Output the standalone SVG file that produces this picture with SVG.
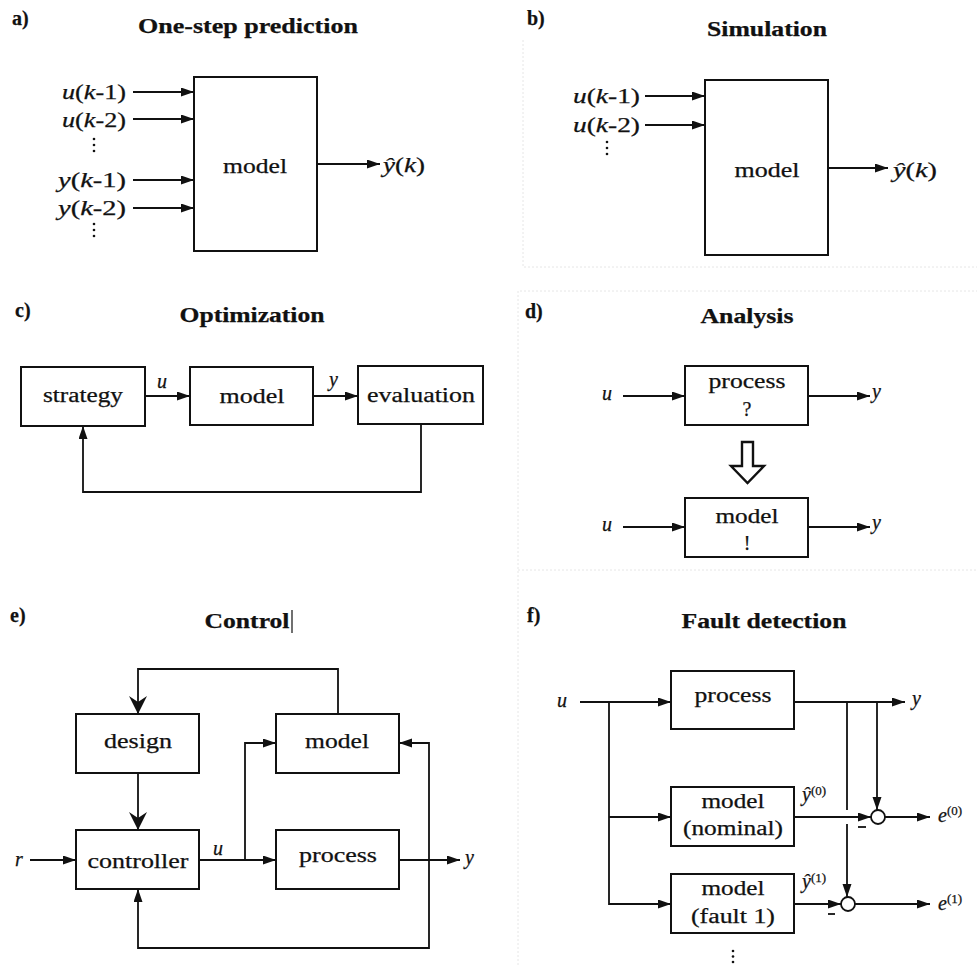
<svg xmlns="http://www.w3.org/2000/svg" width="977" height="967" viewBox="0 0 977 967">
<style>
text{font-family:"Liberation Serif","Times New Roman",serif;fill:#111;stroke:#111;stroke-width:0.25;}
.t{font-size:21px;font-weight:bold;text-anchor:middle;}
.p{font-size:20px;font-weight:bold;}
.b{font-size:20px;text-anchor:middle;}
.l{font-size:20px;}
.i{font-style:italic;}
.s{font-size:13px;}
.box{fill:#fff;stroke:#111;stroke-width:2;}
.c{fill:none;stroke:#111;stroke-width:1.8;}
.dot{fill:#111;}
.bg{stroke:#e6e6e6;stroke-width:1;fill:none;stroke-dasharray:2 2;}
</style>
<defs>
<marker id="ah" markerUnits="userSpaceOnUse" markerWidth="14" markerHeight="10" refX="13" refY="4.5" orient="auto"><path d="M0,0 L13,4.5 L0,9 z" fill="#111"/></marker>
<marker id="big" markerUnits="userSpaceOnUse" markerWidth="19" markerHeight="19" refX="18" refY="9" orient="auto"><path d="M0,0 L18,9 L0,18 L6,9 z" fill="#111"/></marker>
</defs>
<rect x="0" y="0" width="977" height="967" fill="#fff"/>
<g id="background">
<path class="bg" d="M523,40 V267 H977 M520,291 H977 M518,291 V967 M518,570 H977"/>
</g>

<!-- Panel a -->
<g id="panel-a">
<text class="p" x="12" y="25">a)</text>
<text class="t" x="248" y="33" textLength="220" lengthAdjust="spacingAndGlyphs">One-step prediction</text>
<text class="l" x="62" y="99" textLength="64" lengthAdjust="spacingAndGlyphs"><tspan class="i">u</tspan>(<tspan class="i">k</tspan>-1)</text>
<text class="l" x="62" y="127" textLength="64" lengthAdjust="spacingAndGlyphs"><tspan class="i">u</tspan>(<tspan class="i">k</tspan>-2)</text>
<text class="l" x="58" y="187" textLength="68" lengthAdjust="spacingAndGlyphs"><tspan class="i">y</tspan>(<tspan class="i">k</tspan>-1)</text>
<text class="l" x="58" y="215" textLength="68" lengthAdjust="spacingAndGlyphs"><tspan class="i">y</tspan>(<tspan class="i">k</tspan>-2)</text>
<circle class="dot" cx="94" cy="139" r="1.3"/><circle class="dot" cx="94" cy="145" r="1.3"/><circle class="dot" cx="94" cy="151" r="1.3"/>
<circle class="dot" cx="94" cy="224" r="1.3"/><circle class="dot" cx="94" cy="230" r="1.3"/><circle class="dot" cx="94" cy="236" r="1.3"/>
<text class="l" x="383" y="172" textLength="42" lengthAdjust="spacingAndGlyphs"><tspan class="i">ŷ</tspan>(<tspan class="i">k</tspan>)</text>
</g>
<g id="a-model">
<rect class="box" x="194" y="77" width="123" height="174"/>
<text class="b" x="255" y="173" textLength="64" lengthAdjust="spacingAndGlyphs">model</text>
</g>

<!-- Panel b -->
<g id="panel-b">
<text class="p" x="527" y="25">b)</text>
<text class="t" x="767" y="36" textLength="120" lengthAdjust="spacingAndGlyphs">Simulation</text>
<text class="l" x="573" y="103" textLength="67" lengthAdjust="spacingAndGlyphs"><tspan class="i">u</tspan>(<tspan class="i">k</tspan>-1)</text>
<text class="l" x="573" y="132" textLength="67" lengthAdjust="spacingAndGlyphs"><tspan class="i">u</tspan>(<tspan class="i">k</tspan>-2)</text>
<circle class="dot" cx="607" cy="142" r="1.3"/><circle class="dot" cx="607" cy="148" r="1.3"/><circle class="dot" cx="607" cy="154" r="1.3"/>
<text class="l" x="893" y="177" textLength="44" lengthAdjust="spacingAndGlyphs"><tspan class="i">ŷ</tspan>(<tspan class="i">k</tspan>)</text>
</g>
<g id="b-model">
<rect class="box" x="705" y="80" width="123" height="175"/>
<text class="b" x="767" y="177" textLength="65" lengthAdjust="spacingAndGlyphs">model</text>
</g>

<!-- Panel c -->
<g id="panel-c">
<text class="p" x="15" y="317">c)</text>
<text class="t" x="252" y="322" textLength="145" lengthAdjust="spacingAndGlyphs">Optimization</text>
<text class="l i" x="157" y="388">u</text>
<text class="l i" x="329" y="386">y</text>
</g>
<g id="c-strategy">
<rect class="box" x="21" y="367" width="124" height="59"/>
<text class="b" x="83" y="402" textLength="80" lengthAdjust="spacingAndGlyphs">strategy</text>
</g>
<g id="c-model">
<rect class="box" x="190" y="367" width="123" height="58"/>
<text class="b" x="252" y="403" textLength="65" lengthAdjust="spacingAndGlyphs">model</text>
</g>
<g id="c-evaluation">
<rect class="box" x="358" y="366" width="125" height="58"/>
<text class="b" x="421" y="402" textLength="108" lengthAdjust="spacingAndGlyphs">evaluation</text>
</g>

<!-- Panel d -->
<g id="panel-d">
<text class="p" x="525" y="318">d)</text>
<text class="t" x="747" y="323" textLength="93" lengthAdjust="spacingAndGlyphs">Analysis</text>
<text class="l i" x="602" y="400">u</text>
<text class="l i" x="872" y="398">y</text>
<text class="l i" x="602" y="531">u</text>
<text class="l i" x="872" y="529">y</text>
<polygon points="742,442 753,442 753,466 764,466 747.5,483 731,466 742,466" fill="#fff" stroke="#111" stroke-width="2.4"/>
</g>
<g id="d-process">
<rect class="box" x="685" y="366" width="123" height="59"/>
<text class="b" x="747" y="388" textLength="77" lengthAdjust="spacingAndGlyphs">process</text>
<text class="b" x="747" y="416">?</text>
</g>
<g id="d-model">
<rect class="box" x="685" y="498" width="123" height="59"/>
<text class="b" x="747" y="523" textLength="63" lengthAdjust="spacingAndGlyphs">model</text>
<text class="b" x="747" y="550">!</text>
</g>

<!-- Panel e -->
<g id="panel-e">
<text class="p" x="10" y="622">e)</text>
<text class="t" x="247" y="628" textLength="85" lengthAdjust="spacingAndGlyphs">Control</text>
<line x1="292" y1="610" x2="292" y2="633" stroke="#111" stroke-width="1.2"/>
<text class="l i" x="15" y="866">r</text>
<text class="l i" x="213" y="855">u</text>
<text class="l i" x="465" y="864">y</text>
</g>
<g id="e-design">
<rect class="box" x="76" y="714" width="123" height="59"/>
<text class="b" x="138" y="748" textLength="68" lengthAdjust="spacingAndGlyphs">design</text>
</g>
<g id="e-model">
<rect class="box" x="276" y="714" width="123" height="59"/>
<text class="b" x="337" y="748" textLength="64" lengthAdjust="spacingAndGlyphs">model</text>
</g>
<g id="e-controller">
<rect class="box" x="76" y="830" width="123" height="59"/>
<text class="b" x="138" y="868" textLength="101" lengthAdjust="spacingAndGlyphs">controller</text>
</g>
<g id="e-process">
<rect class="box" x="276" y="830" width="123" height="59"/>
<text class="b" x="338" y="862" textLength="78" lengthAdjust="spacingAndGlyphs">process</text>
</g>

<!-- Panel f -->
<g id="panel-f">
<text class="p" x="527" y="622">f)</text>
<text class="t" x="764" y="628" textLength="165" lengthAdjust="spacingAndGlyphs">Fault detection</text>
<text class="l i" x="557" y="707">u</text>
<text class="l i" x="912" y="705">y</text>
<text class="l" x="802" y="801"><tspan class="i">ŷ</tspan><tspan class="s" dy="-6">(0)</tspan></text>
<text class="l" x="802" y="888"><tspan class="i">ŷ</tspan><tspan class="s" dy="-6">(1)</tspan></text>
<text class="l" x="938" y="822"><tspan class="i">e</tspan><tspan class="s" dy="-7">(0)</tspan></text>
<text class="l" x="938" y="910"><tspan class="i">e</tspan><tspan class="s" dy="-7">(1)</tspan></text>
<line x1="858" y1="827" x2="866" y2="827" stroke="#111" stroke-width="1.8"/>
<line x1="828" y1="914" x2="835" y2="914" stroke="#111" stroke-width="1.8"/>
<circle class="dot" cx="733" cy="951" r="1.3"/><circle class="dot" cx="733" cy="956.5" r="1.3"/><circle class="dot" cx="733" cy="962" r="1.3"/>
</g>
<g id="f-process">
<rect class="box" x="671" y="671" width="123" height="58"/>
<text class="b" x="733" y="702" textLength="77" lengthAdjust="spacingAndGlyphs">process</text>
</g>
<g id="f-model-nominal">
<rect class="box" x="671" y="787" width="123" height="59"/>
<text class="b" x="733" y="808" textLength="63" lengthAdjust="spacingAndGlyphs">model</text>
<text class="b" x="733" y="835" textLength="100" lengthAdjust="spacingAndGlyphs">(nominal)</text>
</g>
<g id="f-model-fault1">
<rect class="box" x="671" y="874" width="123" height="59"/>
<text class="b" x="733" y="895" textLength="63" lengthAdjust="spacingAndGlyphs">model</text>
<text class="b" x="733" y="923" textLength="84" lengthAdjust="spacingAndGlyphs">(fault 1)</text>
</g>
<g id="f-sum0"><circle cx="878" cy="817" r="7" fill="#fff" stroke="#111" stroke-width="1.8"/></g>
<g id="f-sum1"><circle cx="848" cy="904" r="7" fill="#fff" stroke="#111" stroke-width="1.8"/></g>

<g id="connectors">
<!-- a -->
<line class="c" x1="133" y1="92" x2="194" y2="92" marker-end="url(#ah)"/>
<line class="c" x1="133" y1="119" x2="194" y2="119" marker-end="url(#ah)"/>
<line class="c" x1="133" y1="180" x2="194" y2="180" marker-end="url(#ah)"/>
<line class="c" x1="133" y1="208" x2="194" y2="208" marker-end="url(#ah)"/>
<line class="c" x1="317" y1="164" x2="380" y2="164" marker-end="url(#ah)"/>
<!-- b -->
<line class="c" x1="645" y1="96" x2="705" y2="96" marker-end="url(#ah)"/>
<line class="c" x1="645" y1="125" x2="705" y2="125" marker-end="url(#ah)"/>
<line class="c" x1="828" y1="168" x2="888" y2="168" marker-end="url(#ah)"/>
<!-- c -->
<line class="c" x1="145" y1="396" x2="190" y2="396" marker-end="url(#ah)"/>
<line class="c" x1="313" y1="396" x2="358" y2="396" marker-end="url(#ah)"/>
<path class="c" d="M421,424 V492 H83 V426" marker-end="url(#ah)"/>
<!-- d -->
<line class="c" x1="623" y1="396" x2="685" y2="396" marker-end="url(#ah)"/>
<line class="c" x1="808" y1="396" x2="870" y2="396" marker-end="url(#ah)"/>
<line class="c" x1="623" y1="527" x2="685" y2="527" marker-end="url(#ah)"/>
<line class="c" x1="808" y1="527" x2="870" y2="527" marker-end="url(#ah)"/>
<!-- e -->
<path class="c" d="M338,714 V669 H138 V714" marker-end="url(#big)"/>
<line class="c" x1="138" y1="773" x2="138" y2="830" marker-end="url(#big)"/>
<line class="c" x1="30" y1="860" x2="76" y2="860" marker-end="url(#ah)"/>
<line class="c" x1="199" y1="860" x2="276" y2="860" marker-end="url(#ah)"/>
<path class="c" d="M245,860 V743 H276" marker-end="url(#ah)"/>
<line class="c" x1="399" y1="860" x2="460" y2="860" marker-end="url(#ah)"/>
<path class="c" d="M429,860 V948 H138 V889" marker-end="url(#ah)"/>
<path class="c" d="M429,860 V743 H399" marker-end="url(#ah)"/>
<!-- f -->
<line class="c" x1="580" y1="702" x2="671" y2="702" marker-end="url(#ah)"/>
<path class="c" d="M609,702 V904 H671" marker-end="url(#ah)"/>
<line class="c" x1="609" y1="817" x2="671" y2="817" marker-end="url(#ah)"/>
<line class="c" x1="794" y1="702" x2="905" y2="702" marker-end="url(#ah)"/>
<line class="c" x1="847" y1="702" x2="847" y2="810"/>
<line class="c" x1="847" y1="824" x2="847" y2="897" marker-end="url(#ah)"/>
<line class="c" x1="877" y1="702" x2="877" y2="810" marker-end="url(#ah)"/>
<line class="c" x1="794" y1="817" x2="871" y2="817" marker-end="url(#ah)"/>
<line class="c" x1="885" y1="817" x2="930" y2="817" marker-end="url(#ah)"/>
<line class="c" x1="794" y1="904" x2="841" y2="904" marker-end="url(#ah)"/>
<line class="c" x1="855" y1="904" x2="930" y2="904" marker-end="url(#ah)"/>
</g>
</svg>
